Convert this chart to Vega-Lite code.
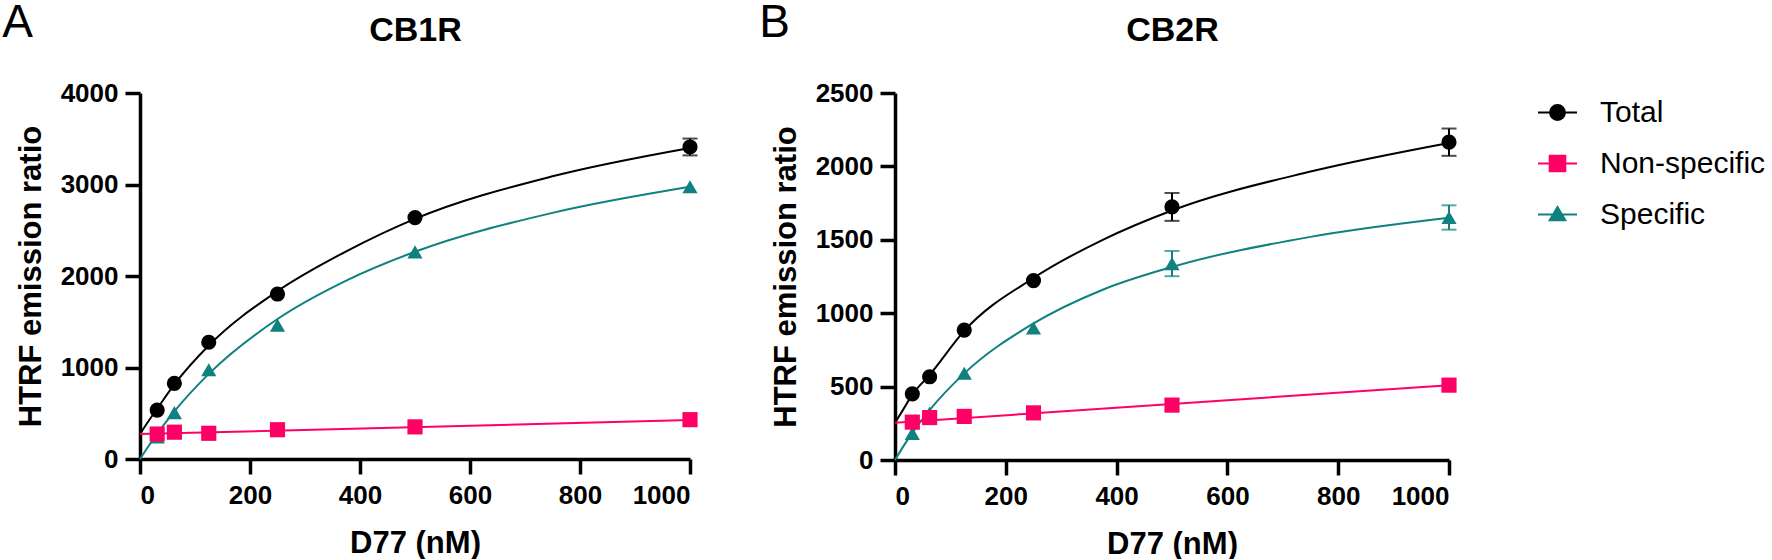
{
  "$schema": "https://vega.github.io/schema/vega-lite/v6.json",
  "padding": {"left": 2, "top": 0, "right": 0, "bottom": 0},
  "spacing": 61,
  "config": {
    "view": {"stroke": null},
    "font": "Liberation Sans",
    "axis": {
      "grid": false,
      "domainColor": "black",
      "domainWidth": 3.5,
      "tickColor": "black",
      "tickWidth": 3.5,
      "tickSize": 15,
      "format": "d",
      "labelFont": "Liberation Sans",
      "labelFontSize": 26,
      "labelFontWeight": "bold",
      "labelColor": "black",
      "titleFont": "Liberation Sans",
      "titleFontSize": 31,
      "titleFontWeight": "bold",
      "titleColor": "black"
    },
    "title": {"font": "Liberation Sans", "fontSize": 46, "fontWeight": "normal", "color": "black"},
    "legend": {
      "orient": "none",
      "legendX": 1397,
      "legendY": -1,
      "title": null,
      "symbolSize": 1521,
      "symbolStrokeWidth": 2,
      "symbolOpacity": 1,
      "labelFont": "Liberation Sans",
      "labelFontSize": 30,
      "labelColor": "black",
      "labelOffset": 22,
      "labelLimit": 400,
      "rowPadding": 15
    }
  },
  "datasets": {
    "points": [
      {"panel": "A", "series": "Specific", "conc": 31.25, "ratio": 240},
      {"panel": "A", "series": "Specific", "conc": 62.5, "ratio": 507},
      {"panel": "A", "series": "Specific", "conc": 125, "ratio": 976},
      {"panel": "A", "series": "Specific", "conc": 250, "ratio": 1463},
      {"panel": "A", "series": "Specific", "conc": 500, "ratio": 2263},
      {"panel": "A", "series": "Specific", "conc": 1000, "ratio": 2975},
      {"panel": "A", "series": "Non-specific", "conc": 31.25, "ratio": 273},
      {"panel": "A", "series": "Non-specific", "conc": 62.5, "ratio": 293},
      {"panel": "A", "series": "Non-specific", "conc": 125, "ratio": 281},
      {"panel": "A", "series": "Non-specific", "conc": 250, "ratio": 320},
      {"panel": "A", "series": "Non-specific", "conc": 500, "ratio": 351},
      {"panel": "A", "series": "Non-specific", "conc": 1000, "ratio": 430},
      {"panel": "A", "series": "Total", "conc": 31.25, "ratio": 535},
      {"panel": "A", "series": "Total", "conc": 62.5, "ratio": 827},
      {"panel": "A", "series": "Total", "conc": 125, "ratio": 1276},
      {"panel": "A", "series": "Total", "conc": 250, "ratio": 1803},
      {"panel": "A", "series": "Total", "conc": 500, "ratio": 2638},
      {"panel": "A", "series": "Total", "conc": 1000, "ratio": 3410, "sd": 92},
      {"panel": "B", "series": "Specific", "conc": 31.25, "ratio": 181},
      {"panel": "B", "series": "Specific", "conc": 62.5, "ratio": 320},
      {"panel": "B", "series": "Specific", "conc": 125, "ratio": 591},
      {"panel": "B", "series": "Specific", "conc": 250, "ratio": 899},
      {"panel": "B", "series": "Specific", "conc": 500, "ratio": 1338, "sd": 86},
      {"panel": "B", "series": "Specific", "conc": 1000, "ratio": 1652, "sd": 83},
      {"panel": "B", "series": "Non-specific", "conc": 31.25, "ratio": 258},
      {"panel": "B", "series": "Non-specific", "conc": 62.5, "ratio": 289},
      {"panel": "B", "series": "Non-specific", "conc": 125, "ratio": 297},
      {"panel": "B", "series": "Non-specific", "conc": 250, "ratio": 321},
      {"panel": "B", "series": "Non-specific", "conc": 500, "ratio": 374},
      {"panel": "B", "series": "Non-specific", "conc": 1000, "ratio": 510},
      {"panel": "B", "series": "Total", "conc": 31.25, "ratio": 451},
      {"panel": "B", "series": "Total", "conc": 62.5, "ratio": 567},
      {"panel": "B", "series": "Total", "conc": 125, "ratio": 885},
      {"panel": "B", "series": "Total", "conc": 250, "ratio": 1222},
      {"panel": "B", "series": "Total", "conc": 500, "ratio": 1724, "sd": 95},
      {"panel": "B", "series": "Total", "conc": 1000, "ratio": 2165, "sd": 93}
    ],
    "fits": [
      {"panel": "A", "series": "Total", "conc": 0, "ratio": 273},
      {"panel": "A", "series": "Total", "conc": 15, "ratio": 410},
      {"panel": "A", "series": "Total", "conc": 31.25, "ratio": 550},
      {"panel": "A", "series": "Total", "conc": 62.5, "ratio": 815},
      {"panel": "A", "series": "Total", "conc": 125, "ratio": 1240},
      {"panel": "A", "series": "Total", "conc": 250, "ratio": 1835},
      {"panel": "A", "series": "Total", "conc": 375, "ratio": 2270},
      {"panel": "A", "series": "Total", "conc": 500, "ratio": 2625},
      {"panel": "A", "series": "Total", "conc": 750, "ratio": 3090},
      {"panel": "A", "series": "Total", "conc": 1000, "ratio": 3400},
      {"panel": "A", "series": "Specific", "conc": 0, "ratio": 0},
      {"panel": "A", "series": "Specific", "conc": 15, "ratio": 137},
      {"panel": "A", "series": "Specific", "conc": 31.25, "ratio": 275},
      {"panel": "A", "series": "Specific", "conc": 62.5, "ratio": 520},
      {"panel": "A", "series": "Specific", "conc": 125, "ratio": 930},
      {"panel": "A", "series": "Specific", "conc": 250, "ratio": 1530},
      {"panel": "A", "series": "Specific", "conc": 375, "ratio": 1950},
      {"panel": "A", "series": "Specific", "conc": 500, "ratio": 2265},
      {"panel": "A", "series": "Specific", "conc": 750, "ratio": 2690},
      {"panel": "A", "series": "Specific", "conc": 1000, "ratio": 2975},
      {"panel": "A", "series": "Non-specific", "conc": 0, "ratio": 272},
      {"panel": "A", "series": "Non-specific", "conc": 1000, "ratio": 425},
      {"panel": "B", "series": "Total", "conc": 0, "ratio": 253},
      {"panel": "B", "series": "Total", "conc": 15, "ratio": 345},
      {"panel": "B", "series": "Total", "conc": 31.25, "ratio": 445},
      {"panel": "B", "series": "Total", "conc": 62.5, "ratio": 580},
      {"panel": "B", "series": "Total", "conc": 125, "ratio": 880},
      {"panel": "B", "series": "Total", "conc": 250, "ratio": 1240},
      {"panel": "B", "series": "Total", "conc": 375, "ratio": 1500},
      {"panel": "B", "series": "Total", "conc": 500, "ratio": 1700},
      {"panel": "B", "series": "Total", "conc": 750, "ratio": 1965},
      {"panel": "B", "series": "Total", "conc": 1000, "ratio": 2160},
      {"panel": "B", "series": "Specific", "conc": 0, "ratio": 0},
      {"panel": "B", "series": "Specific", "conc": 15, "ratio": 93},
      {"panel": "B", "series": "Specific", "conc": 31.25, "ratio": 185},
      {"panel": "B", "series": "Specific", "conc": 62.5, "ratio": 340},
      {"panel": "B", "series": "Specific", "conc": 125, "ratio": 590},
      {"panel": "B", "series": "Specific", "conc": 250, "ratio": 930},
      {"panel": "B", "series": "Specific", "conc": 375, "ratio": 1160},
      {"panel": "B", "series": "Specific", "conc": 500, "ratio": 1315},
      {"panel": "B", "series": "Specific", "conc": 750, "ratio": 1520},
      {"panel": "B", "series": "Specific", "conc": 1000, "ratio": 1650},
      {"panel": "B", "series": "Non-specific", "conc": 0, "ratio": 253},
      {"panel": "B", "series": "Non-specific", "conc": 1000, "ratio": 510}
    ]
  },
  "hconcat": [
    {
      "width": 550,
      "height": 366,
      "title": {"text": "A", "anchor": "start", "frame": "bounds", "offset": -34, "dx": -13},
      "encoding": {
        "y": {"field": "ratio", "type": "quantitative", "scale": {"domain": [0, 4000]},
          "axis": {"values": [0, 1000, 2000, 3000, 4000], "title": "HTRF emission ratio", "labelPadding": 7, "titlePadding": 13}},
        "color": {"field": "series", "type": "nominal", "scale": {"domain": ["Total", "Non-specific", "Specific"], "range": ["#000000", "#FF0066", "#0E8180"]},
          "legend": {
            "encode": {"symbols": {"update": {
              "shape": {"signal": "datum.value === 'Total' ? 'M-1,0H1M0.38,0A0.38,0.38,0,1,1,-0.38,0A0.38,0.38,0,1,1,0.38,0Z' : datum.value === 'Non-specific' ? 'M-1,0H1M-0.4,-0.4H0.4V0.4H-0.4Z' : 'M-1,0H1M0,-0.38L0.4,0.3L-0.4,0.3Z'"},
              "stroke": {"signal": "scale('color', datum.value)"},
              "fill": {"signal": "scale('color', datum.value)"},
              "strokeWidth": {"value": 2},
              "size": {"value": 1521},
              "opacity": {"value": 1}
            }}}
          }}
      },
      "layer": [
        {
          "data": {"name": "fits"},
          "transform": [{"filter": "datum.panel === 'A'"}],
          "mark": {"type": "line", "interpolate": "monotone", "strokeWidth": 2},
          "encoding": {
            "x": {"field": "conc", "type": "quantitative", "scale": {"domain": [0, 1000]},
              "axis": {"values": [0, 200, 400, 600, 800, 1000], "title": "D77 (nM)", "labelPadding": 8, "titlePadding": 20}}
          }
        },
        {
          "data": {"name": "points"},
          "transform": [{"filter": "datum.panel === 'A' && datum.sd > 0"}],
          "mark": {"type": "errorbar", "ticks": {"size": 15}, "thickness": 2},
          "encoding": {
            "x": {"field": "conc", "type": "quantitative", "axis": null},
            "yError": {"field": "sd"}
          }
        },
        {
          "data": {"name": "points"},
          "transform": [{"filter": "datum.panel === 'A'"}],
          "mark": {"type": "point", "filled": true, "opacity": 1, "size": 230},
          "encoding": {
            "x": {"field": "conc", "type": "quantitative",
              "axis": {"orient": "top", "title": "CB1R", "titleFontSize": 34, "domain": false, "ticks": false, "labels": false, "titlePadding": 46}},
            "shape": {"field": "series", "type": "nominal", "scale": {"domain": ["Specific", "Non-specific", "Total"], "range": ["triangle-up", "square", "circle"]}, "legend": null}
          }
        }
      ],
      "resolve": {"axis": {"x": "independent"}}
    },
    {
      "width": 554,
      "height": 367,
      "title": {"text": "B", "anchor": "start", "frame": "bounds", "offset": -34, "dx": -11},
      "encoding": {
        "y": {"field": "ratio", "type": "quantitative", "scale": {"domain": [0, 2500]},
          "axis": {"values": [0, 500, 1000, 1500, 2000, 2500], "title": "HTRF emission ratio", "labelPadding": 7, "titlePadding": 13}},
        "color": {"field": "series", "type": "nominal", "scale": {"domain": ["Total", "Non-specific", "Specific"], "range": ["#000000", "#FF0066", "#0E8180"]},
          "legend": {
            "encode": {"symbols": {"update": {
              "shape": {"signal": "datum.value === 'Total' ? 'M-1,0H1M0.38,0A0.38,0.38,0,1,1,-0.38,0A0.38,0.38,0,1,1,0.38,0Z' : datum.value === 'Non-specific' ? 'M-1,0H1M-0.4,-0.4H0.4V0.4H-0.4Z' : 'M-1,0H1M0,-0.38L0.4,0.3L-0.4,0.3Z'"},
              "stroke": {"signal": "scale('color', datum.value)"},
              "fill": {"signal": "scale('color', datum.value)"},
              "strokeWidth": {"value": 2},
              "size": {"value": 1521},
              "opacity": {"value": 1}
            }}}
          }}
      },
      "layer": [
        {
          "data": {"name": "fits"},
          "transform": [{"filter": "datum.panel === 'B'"}],
          "mark": {"type": "line", "interpolate": "monotone", "strokeWidth": 2},
          "encoding": {
            "x": {"field": "conc", "type": "quantitative", "scale": {"domain": [0, 1000]},
              "axis": {"values": [0, 200, 400, 600, 800, 1000], "title": "D77 (nM)", "labelPadding": 8, "titlePadding": 20}}
          }
        },
        {
          "data": {"name": "points"},
          "transform": [{"filter": "datum.panel === 'B' && datum.sd > 0"}],
          "mark": {"type": "errorbar", "ticks": {"size": 15}, "thickness": 2},
          "encoding": {
            "x": {"field": "conc", "type": "quantitative", "axis": null},
            "yError": {"field": "sd"}
          }
        },
        {
          "data": {"name": "points"},
          "transform": [{"filter": "datum.panel === 'B'"}],
          "mark": {"type": "point", "filled": true, "opacity": 1, "size": 230},
          "encoding": {
            "x": {"field": "conc", "type": "quantitative",
              "axis": {"orient": "top", "title": "CB2R", "titleFontSize": 34, "domain": false, "ticks": false, "labels": false, "titlePadding": 46}},
            "shape": {"field": "series", "type": "nominal", "scale": {"domain": ["Specific", "Non-specific", "Total"], "range": ["triangle-up", "square", "circle"]}, "legend": null}
          }
        }
      ],
      "resolve": {"axis": {"x": "independent"}}
    }
  ]
}
